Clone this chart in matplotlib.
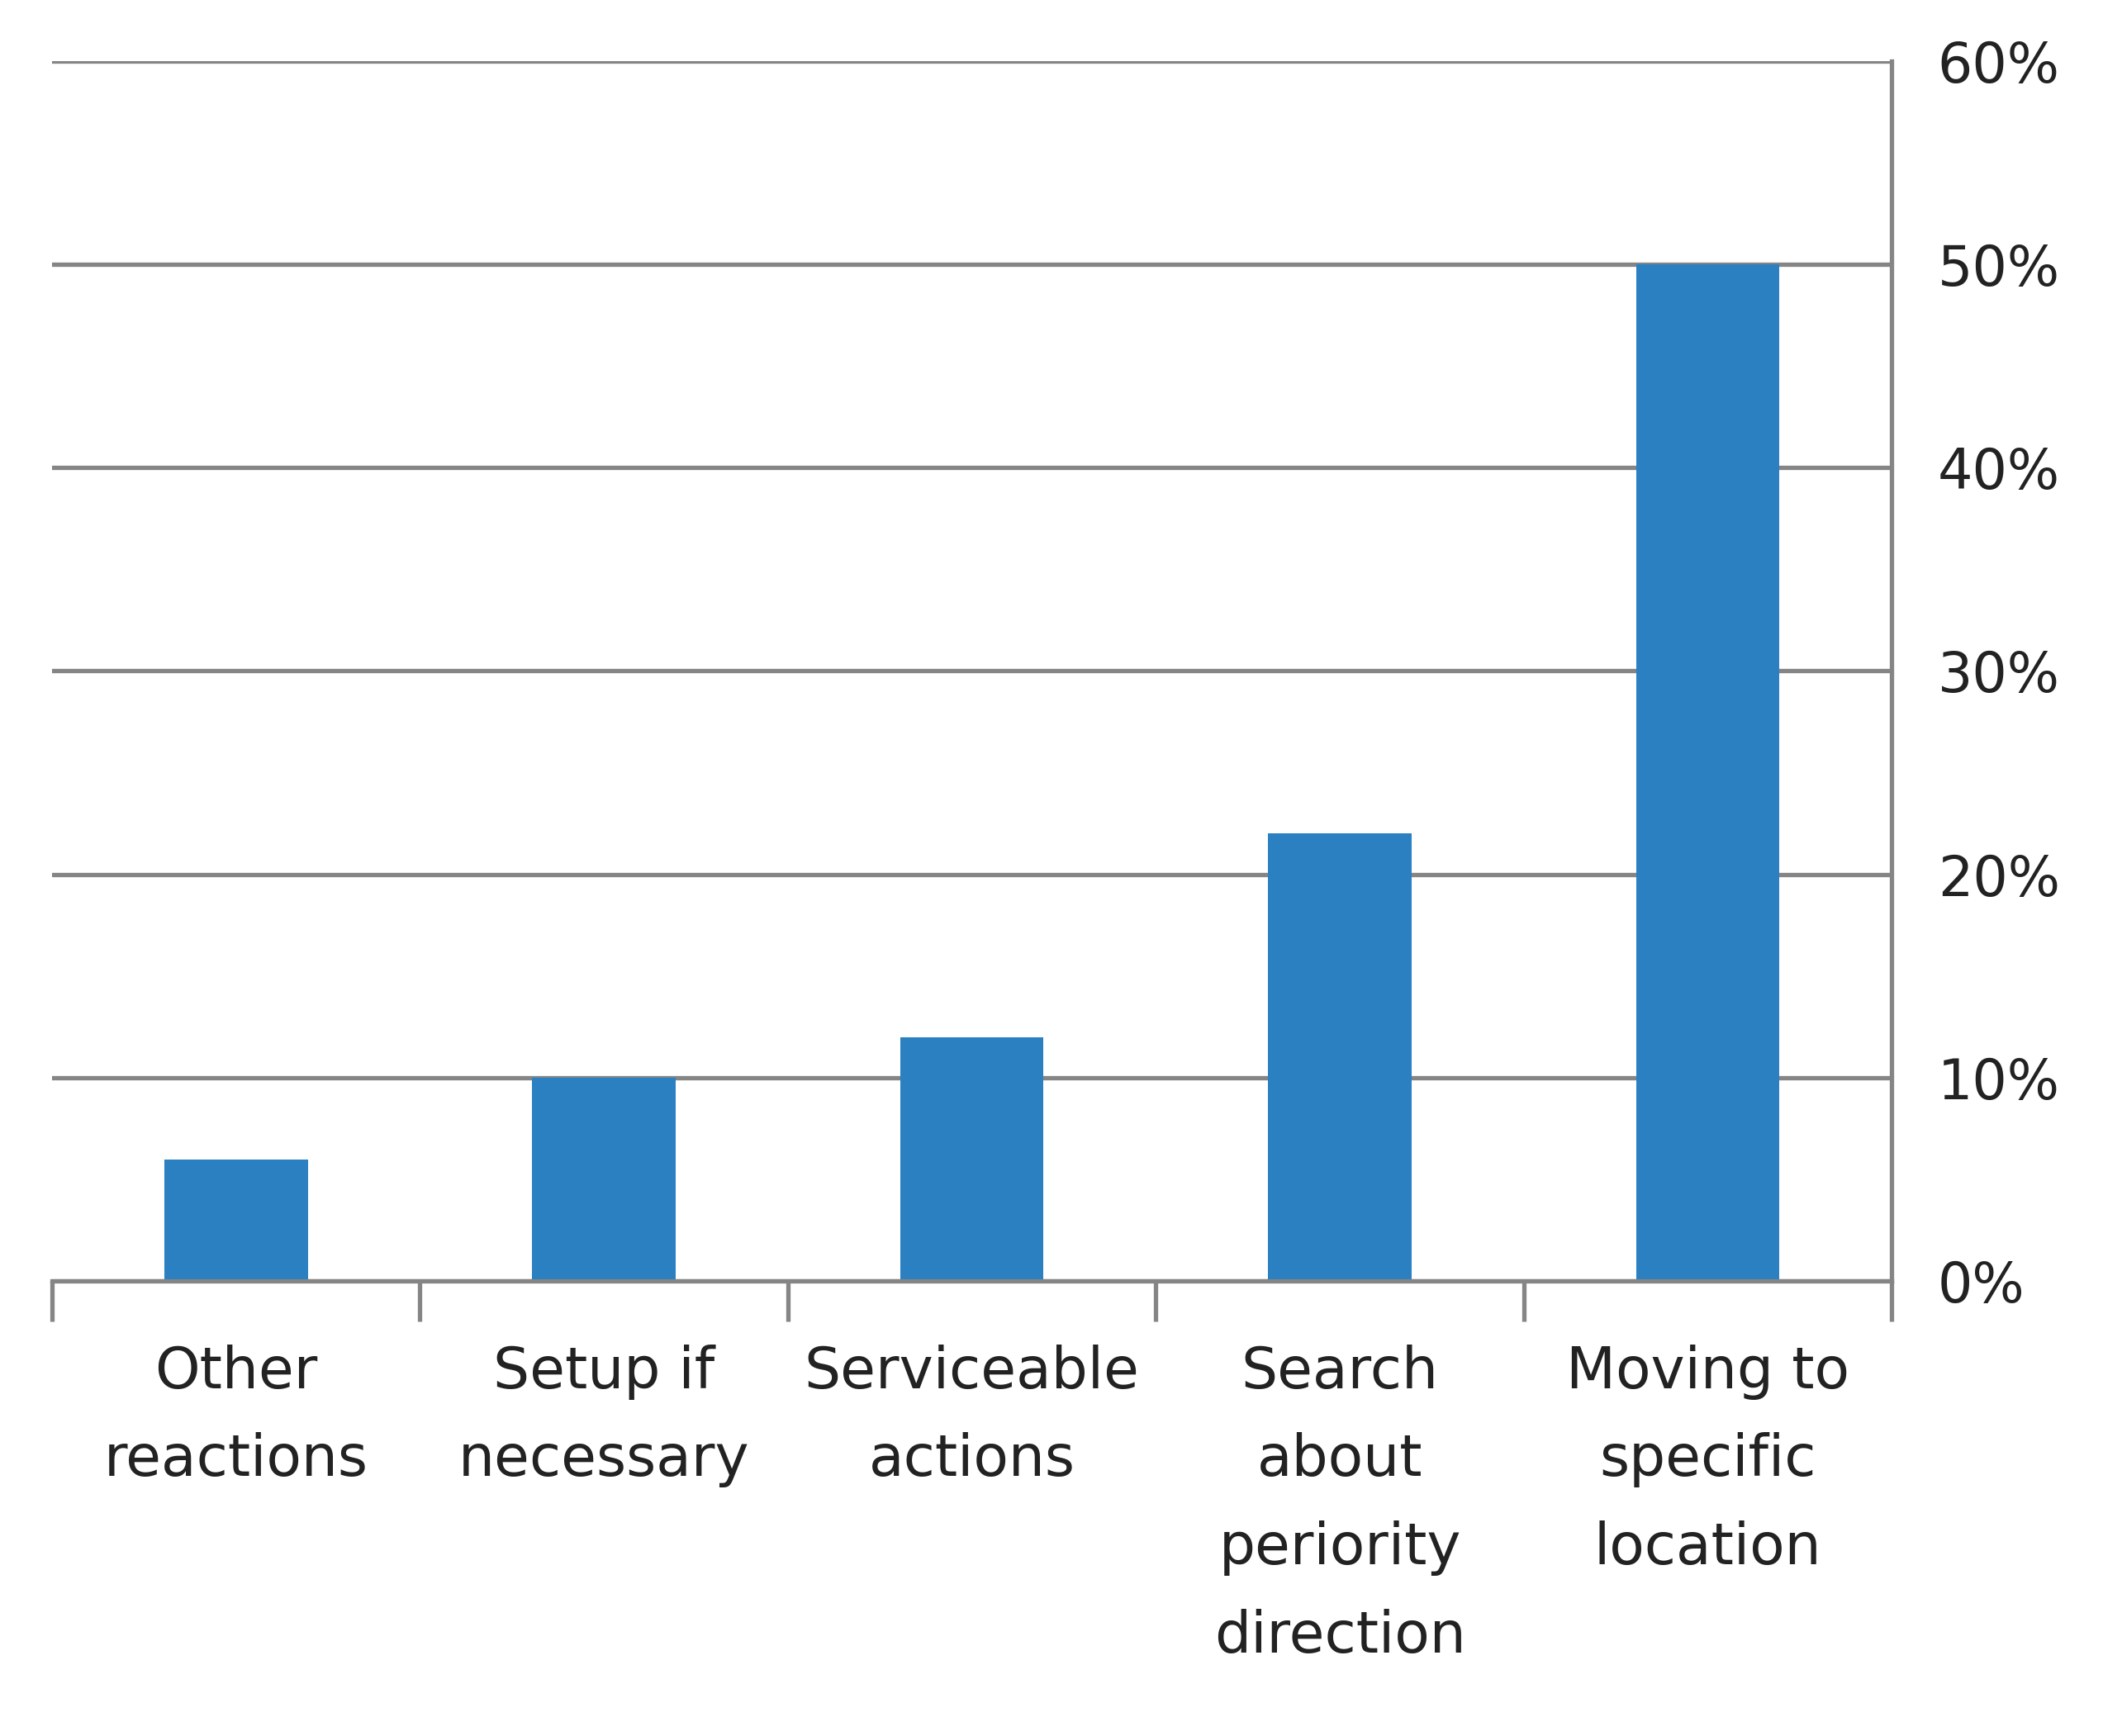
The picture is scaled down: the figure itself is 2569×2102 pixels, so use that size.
import matplotlib
matplotlib.use("Agg")
import matplotlib.pyplot as plt
import numpy as np

categories = ["Other\nreactions", "Setup if\nnecessary", "Serviceable\nactions",
              "Search\nabout\nperiority\ndirection", "Moving to\nspecific\nlocation"]
values = [6, 10, 12, 22, 50]
yticks = [0, 10, 20, 30, 40, 50, 60]
ytick_labels = ["0%", "10%", "20%", "30%", "40%", "50%", "60%"]

fig = plt.figure(figsize=(25.69, 21.02), dpi=100)
ax = fig.add_axes([0.0245, 0.262, 0.8675 - 0.0245 + 0.024, 0.703])

x = np.arange(len(categories))
ax.bar(x, values, width=0.39, color="#2A80C1", zorder=3)

ax.set_xlim(-0.5, len(categories) - 0.5)
ax.set_ylim(0, 60)
ax.set_yticks(yticks)
ax.set_yticklabels(ytick_labels)
ax.yaxis.tick_right()
ax.grid(axis="y", color="#858585", linewidth=3.8, zorder=0)
ax.tick_params(axis="y", length=0, labelsize=48, pad=40, labelcolor="#222222")

ax.set_xticks(x)
ax.set_xticklabels(categories, fontsize=50, linespacing=1.75, color="#222222")
ax.tick_params(axis="x", length=0, pad=55)
# boundary ticks below the axis
ax.set_xticks(np.arange(-0.5, len(categories)), minor=True)
ax.tick_params(axis="x", which="minor", length=35, width=3.8, color="#858585")

for s in ["top", "left"]:
    ax.spines[s].set_visible(False)
for s in ["bottom", "right"]:
    ax.spines[s].set_color("#858585")
    ax.spines[s].set_linewidth(3.8)
ax.spines["bottom"].set_zorder(4)

fig.savefig("out.png", dpi=100, facecolor="white")
